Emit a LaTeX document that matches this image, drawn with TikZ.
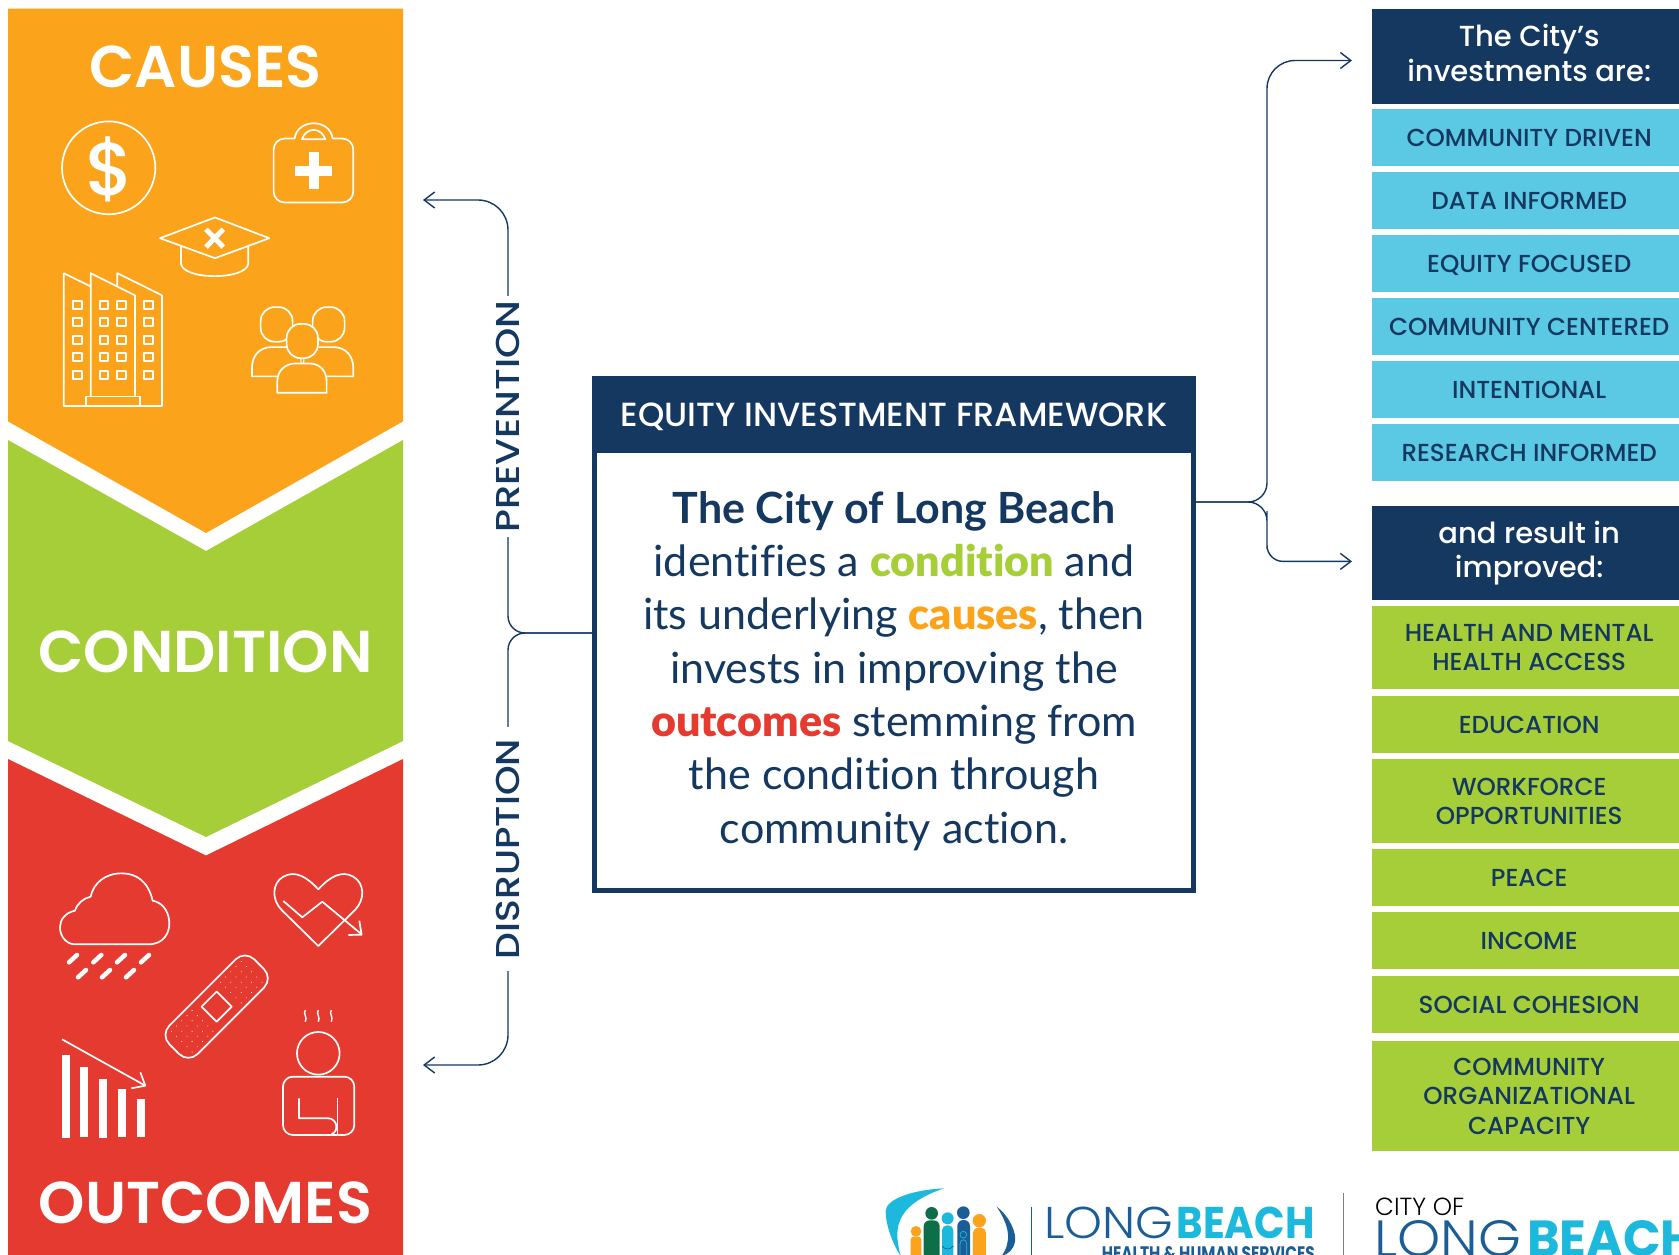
\documentclass[tikz,border=0pt]{standalone}
\usepackage{fontspec}
\setmainfont{Lato}[Ligatures=NoCommon]
\newfontfamily\heavyfont{Lato Black}[Ligatures=NoCommon]
\newfontfamily\headfont{Poppins SemiBold}
\newfontfamily\medfont{Poppins Medium}
\newfontfamily\lightfont{Poppins Light}
\newfontfamily\boldfont{Poppins Bold}
\usetikzlibrary{arrows.meta}

\definecolor{navy}{HTML}{143860}
\definecolor{causeorange}{HTML}{FAA31B}
\definecolor{condgreen}{HTML}{A6CE39}
\definecolor{outcomered}{HTML}{E53A30}
\definecolor{itemblue}{HTML}{5BC8E4}
\definecolor{logoblue}{HTML}{1B5E97}
\definecolor{logocyan}{HTML}{1CB9DD}
\definecolor{logogreen}{HTML}{0E6E47}

\tikzset{
  link/.style={navy,line width=1.4pt,>={Straight Barb[length=10.5pt,width=16pt,line width=1.4pt]}},
  sidelabel/.style={white,font=\headfont\fontsize{59}{59}\selectfont,inner sep=0pt},
  spinelabel/.style={navy,rotate=90,fill=white,inner ysep=0pt,font=\medfont},
  head/.style={fill=navy,text=white,anchor=north west,minimum width=314pt,inner sep=0pt,align=center,
    font=\medfont\fontsize{29}{34.3}\selectfont},
  blueitem/.style={fill=itemblue,text=navy,anchor=north west,minimum width=314pt,inner sep=0pt,align=center,
    font=\medfont\fontsize{24.6}{29.3}\selectfont},
  greenitem/.style={blueitem,fill=condgreen},
  oneline/.style={text height=17.5pt,text depth=0pt},
  multiline/.style={text depth=-6pt},
  icon/.style={white,line width=1.7pt,line join=round},
  causesicons/.style={x=0.3333pt,y=-0.3571pt},
  outcomeicons/.style={shift={(0,840)},x=0.3333pt,y=-0.3333pt},
}

\begin{document}
\begin{tikzpicture}[x=1pt,y=-1pt]
  \useasboundingbox (0,0) rectangle (1679,1255);
  \clip (0,0) rectangle (1679,1255);

  % chevrons
  \fill[causeorange] (8,8.6) -- (403,8.6) -- (403,421.4) -- (206,533) -- (8,421.4) -- cycle;
  \fill[condgreen] (8,440) -- (206,551) -- (403,440) -- (403,741) -- (206,837) -- (8,741) -- cycle;
  \fill[outcomered] (8,759) -- (206,855.5) -- (403,759) -- (403,1255) -- (8,1255) -- cycle;
  \node[sidelabel] (causes) at (205.5,67) {CAUSES};
  \node[sidelabel] (condition) at (205.5,652) {CONDITION};
  \node[sidelabel] (outcomes) at (205.5,1202.5) {OUTCOMES};

  % framework box
  \node[draw=navy,line width=5pt,minimum width=599pt,minimum height=512pt] (frame) at (894,634.5) {};
  \node[fill=navy,text=white,minimum width=604pt,minimum height=77pt,inner sep=0pt,text height=23pt,text depth=0pt,
        font=\medfont\fontsize{33.5}{33.5}\selectfont] (frametitle) at (894,414.5) {EQUITY INVESTMENT FRAMEWORK};
  \node[navy,align=center,inner sep=0pt,font=\fontsize{43}{53.3}\selectfont] (framebody) at (894,671)
    {\textbf{The City of Long Beach}\\
     identifies a \textcolor{condgreen}{\heavyfont condition} and\\
     its underlying \textcolor{causeorange}{\heavyfont causes}, then\\
     invests in improving the\\
     \textcolor{outcomered}{\heavyfont outcomes} stemming from\\
     the condition through\\
     community action.};

  % spine to the left
  \coordinate (leftspine) at (508,633);
  \coordinate (preventtip) at (423,200);
  \coordinate (disrupttip) at (423,1065);
  \draw[link,->,rounded corners=17pt] (frame.west |- leftspine) -- (leftspine) -- (508,420) [rounded corners=30pt]
    -- (508,200) -- (preventtip);
  \draw[link,->,rounded corners=17pt] (frame.west |- leftspine) -- (leftspine) -- (508,850) [rounded corners=30pt]
    -- (508,1065) -- (disrupttip);
  \node[spinelabel,inner xsep=4pt] (prevention) at (507.7,416.5) {\resizebox{232pt}{23.3pt}{PREVENTION}};
  \node[spinelabel,inner xsep=12pt] (disruption) at (507.7,849) {\resizebox{220pt}{23.3pt}{DISRUPTION}};

  % spine to the right
  \coordinate (rightspine) at (1267,502);
  \coordinate (investtip) at (1352,60.5);
  \coordinate (resulttip) at (1352,561.4);
  \draw[link,->,rounded corners=19pt] (frame.east |- rightspine) -- (rightspine) -- (1267,300) [rounded corners=28pt]
    -- (1267,60.5) -- (investtip);
  \draw[link,->,rounded corners=19pt] (frame.east |- rightspine) -- (rightspine) -- (1267,530) [rounded corners=16pt]
    -- (1267,561.4) -- (resulttip);

  % first column of items
  \node[head,text depth=7.5pt,minimum height=95pt] (investhead) at (1372,9) {The City’s\\investments are:};
  \node[blueitem,oneline,minimum height=56.7pt] (driven) at (1372,109) {COMMUNITY DRIVEN};
  \node[blueitem,oneline,minimum height=56.5pt] (data) at (1372,172.2) {DATA INFORMED};
  \node[blueitem,oneline,minimum height=56.6pt] (equity) at (1372,235) {EQUITY FOCUSED};
  \node[blueitem,oneline,minimum height=56.8pt] (centered) at (1372,298) {COMMUNITY CENTERED};
  \node[blueitem,oneline,minimum height=56.5pt] (intentional) at (1372,361) {INTENTIONAL};
  \node[blueitem,oneline,minimum height=56.7pt] (research) at (1372,424) {RESEARCH INFORMED};

  % second column of items
  \node[head,minimum height=94pt] (resulthead) at (1372,506) {and result in\\improved:};
  \node[greenitem,multiline,text depth=-8pt,minimum height=83pt] (health) at (1372,606) {HEALTH AND MENTAL\\HEALTH ACCESS};
  \node[greenitem,oneline,minimum height=57pt] (education) at (1372,696) {EDUCATION};
  \node[greenitem,multiline,minimum height=83.7pt] (workforce) at (1372,759) {WORKFORCE\\OPPORTUNITIES};
  \node[greenitem,oneline,minimum height=56.6pt] (peace) at (1372,849) {PEACE};
  \node[greenitem,oneline,minimum height=57pt] (income) at (1372,912) {INCOME};
  \node[greenitem,oneline,minimum height=57pt] (cohesion) at (1372,976) {SOCIAL COHESION};
  \node[greenitem,multiline,minimum height=110pt] (capacity) at (1372,1041) {COMMUNITY\\ORGANIZATIONAL\\CAPACITY};

  % causes icons
  \begin{scope}[causesicons]
    % money
    \draw[icon] (326,470) ellipse [x radius=140,y radius=130];
    \node[white,inner sep=0pt,font=\medfont\fontsize{75}{75}\selectfont] (dollar) at (330,474) {\$};
    % medical bag
    \draw[icon,rounded corners=11pt] (884,388) -- (821,388) -- (821,567) -- (1060,567) -- (1060,388) -- (998,388);
    \draw[icon] (884,388) .. controls (892,331) and (990,331) .. (998,388);
    \draw[icon] (906,390) .. controls (918,355) and (964,355) .. (976,390) -- cycle;
    \fill[white] (885,464) rectangle (997,492);
    \fill[white] (926,427) rectangle (957,529);
    % cap
    \draw[icon] (480,667) -- (645,609) -- (808,667) -- (645,723) -- cycle;
    \draw[icon] (543,690) -- (543,738) .. controls (548,785) and (740,785) .. (745,738) -- (745,690);
    \draw[white,line width=5pt] (618,642) -- (670,692) (670,642) -- (618,692);
    % building
    \draw[icon] (191,765) -- (191,1137) -- (486,1137) -- (486,827) -- (352,765) -- (352,800);
    \draw[icon] (191,765) -- (272,802);
    \draw[icon] (272,1110) -- (272,765) -- (405,827) -- (405,1110);
    \draw[icon] (257,1137) rectangle (420,1110);
    \foreach \col in {233,312,365,445} {
      \foreach \row in {853,902,951,1000,1050} {
        \draw[icon,line width=2pt] (\col-13,\row-11) rectangle (\col+13,\row+11);
      }
    }
    % people
    \draw[icon,rounded corners=14pt] (782,860) rectangle (878,957);
    \draw[icon,rounded corners=14pt] (938,860) rectangle (1034,957);
    \draw[icon,fill=causeorange,rounded corners=14pt] (860,907) rectangle (954,1003);
    \draw[icon] (860,972) -- (815,972) .. controls (775,972) and (756,1000) .. (756,1030) -- (756,1054) -- (832,1054);
    \draw[icon] (955,972) -- (1000,972) .. controls (1040,972) and (1060,1000) .. (1060,1030) -- (1060,1054) -- (980,1054);
    \draw[icon] (832,1100) -- (832,1068) .. controls (832,1035) and (860,1018) .. (885,1018) -- (930,1018)
      .. controls (955,1018) and (980,1035) .. (980,1068) -- (980,1100) -- cycle;
    \draw[white,line width=1pt] (902,1003) -- (904,1018) (912,1003) -- (911,1018);
  \end{scope}

  % outcome icons
  \begin{scope}[outcomeicons]
    % cloud
    \draw[icon] (225,313) -- (445,313) .. controls (490,313) and (510,280) .. (508,245)
      .. controls (505,210) and (485,187) .. (458,182) .. controls (445,125) and (410,100) .. (365,100)
      .. controls (315,100) and (280,130) .. (272,170) .. controls (250,175) and (232,190) .. (225,212)
      .. controls (195,218) and (180,240) .. (180,262) .. controls (180,290) and (200,313) .. (225,313);
    \draw[white,line width=4.5pt,line cap=round] (207,367) -- (231,345) (280,367) -- (304,345)
      (351,367) -- (375,345) (423,367) -- (447,345) (234,412) -- (258,390) (306,412) -- (330,390)
      (378,412) -- (402,390);
    % heart
    \draw[icon] (955,318) -- (845,210) .. controls (815,180) and (815,130) .. (850,110)
      .. controls (885,90) and (920,110) .. (955,148) .. controls (990,110) and (1025,90) .. (1060,110)
      .. controls (1095,130) and (1095,180) .. (1065,210) -- cycle;
    \draw[icon] (850,183) -- (907,232) -- (967,185) -- (1085,283);
    \draw[icon] (1045,285) -- (1085,284) -- (1078,242);
    % bandage
    \begin{scope}[shift={(650,500)},rotate=45]
      \draw[icon,rounded corners=13pt] (-180,-60) rectangle (180,60);
      \draw[icon] (-32,-32) rectangle (32,32);
      \foreach \u in {60,82,...,148} {
        \foreach \v in {-44,-22,...,44} {
          \fill[white] (\u,\v) circle [radius=0.55pt];
          \fill[white] (-\u,\v) circle [radius=0.55pt];
        }
      }
    \end{scope}
    % chart
    \fill[white] (186,645) rectangle (210,893);
    \fill[white] (240,681) rectangle (264,890);
    \fill[white] (297,717) rectangle (321,893);
    \fill[white] (354,747) rectangle (378,890);
    \fill[white] (411,777) rectangle (435,890);
    \draw[icon] (186,598) -- (436,737);
    \draw[icon] (394,745) -- (436,737) -- (421,697);
    % person
    \draw[icon] (955,640) circle [radius=64];
    \draw[icon,rounded corners=10pt] (849,710) rectangle (1063,885);
    \draw[icon] (897,775) -- (897,835) -- (985,835) .. controls (1012,835) and (1018,875) .. (995,882);
    \draw[icon] (1013,775) -- (1013,885);
    \draw[white,line width=1.4pt] (916,510) .. controls (908,522) and (924,532) .. (916,545);
    \draw[white,line width=1.4pt] (955,510) .. controls (947,522) and (963,532) .. (955,545);
    \draw[white,line width=1.4pt] (994,510) .. controls (986,522) and (1002,532) .. (994,545);
  \end{scope}

  % health department logo
  \begin{scope}[shift={(870,1170)},x=0.3333pt,y=-0.3333pt]
    \fill[logocyan] (222,55) .. controls (120,60) and (45,90) .. (47,125) .. controls (48,170) and (70,225) .. (92,258)
      .. controls (75,190) and (60,110) .. (222,55) -- cycle;
    \fill[logoblue] (380,110) .. controls (420,140) and (440,190) .. (435,215) .. controls (430,240) and (415,252) .. (395,258)
      .. controls (425,215) and (420,170) .. (380,110) -- cycle;
    \fill[causeorange] (138,184) circle [radius=16];
    \fill[causeorange,rounded corners=3pt] (122,200) rectangle (154,270);
    \fill[logogreen] (185,130) circle [radius=19];
    \fill[logogreen,rounded corners=6pt] (161,151) rectangle (209,270);
    \fill[logocyan] (233,145) circle [radius=18];
    \fill[logocyan,rounded corners=5pt] (216,166) rectangle (250,270);
    \fill[logoblue] (280,128) circle [radius=19];
    \fill[logoblue,rounded corners=6pt] (262,150) rectangle (300,270);
    \draw[logocyan,line width=0.7pt] (280,194) circle [radius=10];
    \draw[logocyan,line width=0.7pt] (270,260) -- (270,222) .. controls (270,205) and (290,205) .. (290,222) -- (290,260);
    \fill[causeorange] (328,152) circle [radius=20];
    \fill[causeorange,rounded corners=5pt] (309,173) rectangle (348,270);
    \draw[logoblue,line width=0.7pt] (216,228) .. controls (225,240) and (240,240) .. (250,228);
    \fill[logoblue] (482,110) rectangle +(5,150);
  \end{scope}
  \node[logoblue,anchor=base west,inner sep=0pt,font=\lightfont] (hhslong) at (1044,1238)
    {\resizebox{129pt}{31.5pt}{LONG}};
  \node[logocyan,anchor=base west,inner sep=0pt,font=\boldfont] (hhsbeach) at (1176.5,1238)
    {\resizebox{138pt}{31.5pt}{BEACH}};
  \node[logoblue,anchor=base east,inner sep=0pt,font=\boldfont] (hhsname) at (1315,1260)
    {\resizebox{213pt}{14pt}{HEALTH \& HUMAN SERVICES}};
  \draw[gray,line width=0.8pt] (1343.7,1192.7) -- (1343.7,1255);

  % city logo
  \node[black,anchor=base west,inner sep=0pt,font=\lightfont] (cityof) at (1375,1215)
    {\resizebox{89pt}{17.5pt}{CITY OF}};
  \node[logoblue,anchor=base west,inner sep=0pt,font=\lightfont] (citylong) at (1374,1256.5)
    {\resizebox{147pt}{36pt}{LONG}};
  \node[logocyan,anchor=base west,inner sep=0pt,font=\boldfont] (citybeach) at (1527,1256.5)
    {\resizebox{170pt}{36pt}{BEACH}};
\end{tikzpicture}
\end{document}
